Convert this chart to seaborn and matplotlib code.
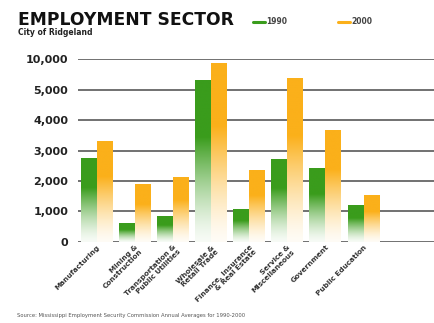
import numpy as np
import pandas as pd
import matplotlib
matplotlib.use("Agg")
import matplotlib.pyplot as plt
import seaborn as sns

categories = ["Manufacturing", "Mining &\nConstruction", "Transportation &\nPublic Utilities",
              "Wholesale &\nRetail Trade", "Finance, Insurance\n& Real Estate",
              "Service &\nMiscellaneous", "Government", "Public Education"]
values_1990 = [2740, 610, 850, 6550, 1050, 2710, 2420, 1190]
values_2000 = [3290, 1870, 2110, 9200, 2330, 6850, 3670, 1540]
years = ["1990", "2000"]
tick_values = [0, 1000, 2000, 3000, 4000, 5000, 10000]
tick_labels = ["0", "1,000", "2,000", "3,000", "4,000", "5,000", "10,000"]
colors = {"1990": "#3a9c1c", "2000": "#fbb01a"}

df = pd.DataFrame({
    "sector": categories * 2,
    "year": ["1990"] * len(categories) + ["2000"] * len(categories),
    "value": values_1990 + values_2000,
})

sns.set_style("white")
plt.rcParams['font.family'] = ['DejaVu Sans']

fig = plt.figure(figsize=(4.34, 3.23), dpi=100)
ax = fig.add_axes([0.1797, 0.2508, 0.8203, 0.5665])


def fwd(v):
    v = np.asarray(v, dtype=float)
    return np.where(v <= 5000, v / 1000.0, 5 + (v - 5000) / 5000.0)


def inv(u):
    u = np.asarray(u, dtype=float)
    return np.where(u <= 5, u * 1000.0, 5000 + (u - 5) * 5000.0)


ax.set_yscale("function", functions=(fwd, inv))

sns.barplot(data=df, x="sector", y="value", hue="year", palette=colors,
            width=0.84, ax=ax, legend=False, saturation=1, zorder=3)

ax.set_xlim(-0.5, 8.85)
ax.set_ylim(0, 10000)
ax.set_yticks(tick_values)
ax.set_yticklabels(tick_labels, fontsize=8, fontweight="bold", color="#222222")
ax.yaxis.set_minor_locator(matplotlib.ticker.NullLocator())
ax.tick_params(axis="y", length=0, pad=7)
ax.tick_params(axis="x", length=0, pad=1.5)
ax.set_xticks(range(len(categories)))
ax.set_xticklabels(categories, rotation=45, ha="right", rotation_mode="anchor",
                   fontsize=5.2, fontweight="bold", color="#333333", linespacing=1.0)
ax.set_xlabel("")
ax.set_ylabel("")
for s in ax.spines.values():
    s.set_visible(False)
ax.grid(axis="y", color="#4a4a4a", linewidth=1.1, zorder=0)
ax.set_axisbelow(True)

# gradient fill for bars
fig.canvas.draw()
inv_ax = ax.transAxes.inverted()
t = np.linspace(0, 1, 256)
alpha = np.clip((t / 0.65) ** 1.4, 0, 1) * 0.96 + 0.04
alpha = np.clip(alpha, 0, 1)
for patch in ax.patches:
    fc = patch.get_facecolor()[:3]
    bb = patch.get_window_extent()
    (x0, y0), (x1, y1) = inv_ax.transform([[bb.x0, bb.y0], [bb.x1, bb.y1]])
    rgb = np.array(fc)
    img = (1 - alpha[:, None]) * 1.0 + alpha[:, None] * rgb[None, :]
    img = img[:, None, :]
    ax.imshow(img, extent=(x0, x1, y0, y1), origin="lower", aspect="auto",
              transform=ax.transAxes, zorder=3, interpolation="bilinear")
    patch.set_visible(False)
ax.set_xlim(-0.5, 8.85)
ax.set_ylim(0, 10000)

# titles
fig.text(18 / 434, 1 - 25 / 323, "EMPLOYMENT SECTOR", fontsize=12.3, fontweight="bold",
         color="#111111", ha="left", va="baseline")
fig.text(18 / 434, 1 - 35 / 323, "City of Ridgeland", fontsize=5.5, fontweight="bold",
         color="#222222", ha="left", va="baseline")

# legend
for (x0, x1, tx), yr in zip([(253, 265, 266), (338, 350, 351)], years):
    fig.add_artist(plt.Line2D([x0 / 434, x1 / 434], [1 - 21.5 / 323] * 2,
                              color=colors[yr], linewidth=2.2))
    fig.text(tx / 434, 1 - 21.5 / 323, yr, fontsize=5.5, fontweight="bold",
             color="#444444", ha="left", va="center")

fig.text(17 / 434, 1 - 317 / 323,
         "Source: Mississippi Employment Security Commission Annual Averages for 1990-2000",
         fontsize=3.8, color="#555555", ha="left", va="baseline")

fig.savefig("out.png", dpi=100, facecolor="white")
